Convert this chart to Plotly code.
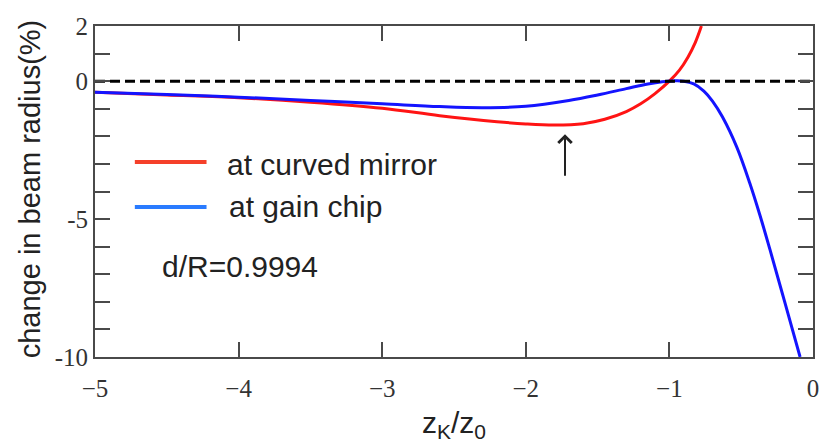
import plotly.graph_objects as go

# Relative change of the beam radius versus normalised position z_K/z_0
z_mirror = [-5.0, -4.5, -4.0, -3.5, -3.0, -2.6, -2.2, -2.0, -1.8, -1.6, -1.45,
            -1.3, -1.2, -1.1, -1.0, -0.93, -0.87, -0.82, -0.777]
dw_mirror = [-0.40, -0.50, -0.60, -0.76, -0.98, -1.25, -1.47, -1.55, -1.59, -1.54, -1.38,
             -1.10, -0.82, -0.45, 0.0, 0.40, 0.88, 1.40, 2.0]

z_chip = [-5.0, -4.5, -4.0, -3.5, -3.0, -2.6, -2.3, -2.0, -1.7, -1.5, -1.3, -1.15,
          -1.05, -0.97, -0.9, -0.83, -0.76, -0.7, -0.63, -0.53, -0.44, -0.37, -0.3,
          -0.2, -0.09]
dw_chip = [-0.40, -0.48, -0.58, -0.70, -0.82, -0.92, -0.96, -0.91, -0.70, -0.50, -0.27, -0.10,
           -0.02, 0.01, 0.0, -0.10, -0.36, -0.72, -1.30, -2.40, -3.70, -4.85, -6.10,
           -7.95, -10.0]

zero_x = [-5, 0]
zero_y = [0, 0]

x_tickvals = [-5, -4, -3, -2, -1, 0]
x_ticktext = ["\u22125", "\u22124", "\u22123", "\u22122", "\u22121", "0"]
y_tickvals = [2, 0, -5, -10]
y_ticktext = ["2", "0", "-5", "-10"]

marker_z = -1.727
marker_tip = -1.92
marker_tail = -3.48

SANS = "Liberation Sans, Arial, sans-serif"
SERIF = "Liberation Serif, Times New Roman, serif"
AXIS_COLOR = "#4a4a4a"
TEXT = "#222222"

fig = go.Figure()
fig.add_trace(go.Scatter(x=z_mirror, y=dw_mirror, mode="lines",
                         line=dict(color="#ff1414", width=3, shape="spline"),
                         name="at curved mirror", showlegend=False))
fig.add_trace(go.Scatter(x=z_chip, y=dw_chip, mode="lines",
                         line=dict(color="#1414ff", width=3, shape="spline"),
                         name="at gain chip", showlegend=False))
fig.add_trace(go.Scatter(x=zero_x, y=zero_y, mode="lines",
                         line=dict(color="black", width=3, dash="10px,5px"),
                         showlegend=False))

W, H = 831, 446
L, R, T, B = 95, 15, 26, 89
pw, ph = W - L - R, H - T - B


def px(xp):
    return (xp - L) / pw


def py(yp):
    return (H - B - yp) / ph


# hand-drawn legend samples
fig.add_shape(type="line", xref="paper", yref="paper",
              x0=px(135), x1=px(207), y0=py(162), y1=py(162),
              line=dict(color="#f5402a", width=4))
fig.add_shape(type="line", xref="paper", yref="paper",
              x0=px(135), x1=px(207), y0=py(207), y1=py(207),
              line=dict(color="#2a7bff", width=4))

annotations = [
    dict(text="at curved mirror", x=px(226), y=py(165), xref="paper", yref="paper",
         xanchor="left", yanchor="middle", showarrow=False,
         font=dict(family=SANS, size=30, color=TEXT)),
    dict(text="at gain chip", x=px(228), y=py(206), xref="paper", yref="paper",
         xanchor="left", yanchor="middle", showarrow=False,
         font=dict(family=SANS, size=30, color=TEXT)),
    dict(text="d/R=0.9994", x=px(160), y=py(266), xref="paper", yref="paper",
         xanchor="left", yanchor="middle", showarrow=False,
         font=dict(family=SANS, size=30, color=TEXT)),
    dict(text="change in beam radius(%)", x=px(30), y=py(189), xref="paper", yref="paper",
         xanchor="center", yanchor="middle", textangle=-90, showarrow=False,
         font=dict(family=SANS, size=29, color=TEXT)),
    dict(text="z<sub>K</sub>/z<sub>0</sub>", x=0.5, y=py(424), xref="paper", yref="paper",
         xanchor="center", yanchor="middle", showarrow=False,
         font=dict(family=SANS, size=30, color=TEXT)),
    dict(x=marker_z, y=marker_tip, ax=marker_z, ay=marker_tail, xref="x", yref="y",
         axref="x", ayref="y", text="", showarrow=True, arrowhead=4,
         arrowsize=1.3, arrowwidth=2, arrowcolor=TEXT),
]

fig.update_layout(
    width=W, height=H,
    margin=dict(l=L, r=R, t=T, b=B),
    paper_bgcolor="white", plot_bgcolor="white",
    annotations=annotations,
    showlegend=False,
)
fig.update_xaxes(range=[-5, 0], tickvals=x_tickvals, ticktext=x_ticktext,
                 showgrid=False, zeroline=False, showline=True, linecolor=AXIS_COLOR,
                 linewidth=2, mirror="ticks", ticks="inside", ticklen=15, tickwidth=2,
                 tickcolor=AXIS_COLOR, ticklabelstandoff=8,
                 tickfont=dict(family=SERIF, size=25, color="#333333"))
fig.update_yaxes(range=[-10, 2], tickvals=y_tickvals, ticktext=y_ticktext,
                 showgrid=False, zeroline=False, showline=True, linecolor=AXIS_COLOR,
                 linewidth=2, mirror="ticks", ticks="inside", ticklen=15, tickwidth=2,
                 tickcolor=AXIS_COLOR,
                 minor=dict(tickmode="linear", tick0=0, dtick=1, ticks="inside",
                            ticklen=15, tickwidth=2, tickcolor=AXIS_COLOR, showgrid=False),
                 tickfont=dict(family=SERIF, size=25, color="#333333"))

fig.write_html("out.html")
